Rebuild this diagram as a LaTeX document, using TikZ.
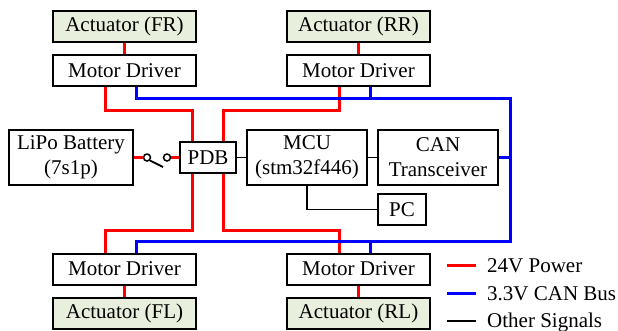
\documentclass[tikz,border=0pt]{standalone}
\usepackage{fontspec}
\setmainfont{Liberation Serif}
\definecolor{actfill}{RGB}{233,239,221}
\definecolor{pwr}{RGB}{255,0,0}
\definecolor{canc}{RGB}{0,0,255}
\begin{document}
\begin{tikzpicture}[x=1pt,y=-1pt,
  box/.style={draw=black,line width=2pt,fill=white,inner sep=0pt,minimum width=143pt,minimum height=31pt,font=\fontsize{21}{25}\selectfont,align=center},
  actbox/.style={box,fill=actfill},
  pow/.style={draw=pwr,line width=3pt},
  can/.style={draw=canc,line width=3pt},
  sig/.style={draw=black,line width=1.8pt},
  legtext/.style={anchor=base west,inner sep=0pt,font=\fontsize{21}{25}\selectfont},
  swpin/.style={circle,draw=black,line width=1.5pt,fill=white,inner sep=0pt,minimum size=7pt}]
\useasboundingbox (0,0) rectangle (618,330);

\coordinate (busTR) at (510,98);
\coordinate (busBR) at (510,241);

% nodes
\node[actbox] (actfr) at (124.5,26) {Actuator (FR)};
\node[box] (mdfr) at (124.5,70.5) {Motor Driver};
\node[actbox] (actrr) at (358.5,26) {Actuator (RR)};
\node[box] (mdrr) at (358.5,70.5) {Motor Driver};
\node[box] (mdfl) at (124.5,269) {Motor Driver};
\node[actbox] (actfl) at (124.5,313) {Actuator (FL)};
\node[box] (mdrl) at (358.5,269) {Motor Driver};
\node[actbox] (actrl) at (358.5,313) {Actuator (RL)};
\node[box,minimum width=124pt,minimum height=55pt] (bat) at (71,157.5) {LiPo Battery\\(7s1p)};
\node[box,minimum width=56pt,minimum height=31pt] (pdb) at (208,157.5) {PDB};
\node[box,minimum width=120pt,minimum height=55pt] (mcu) at (307,157.5) {MCU\\(stm32f446)};
\node[box,minimum width=120pt,minimum height=55pt] (can) at (438,157.5) {CAN\\Transceiver};
\node[box,minimum width=48pt,minimum height=31pt] (pc) at (402,209.5) {PC};

% switch
\node[swpin] (sw1) at (147,157.5) {};
\node[swpin] (sw2) at (167,157.5) {};
\coordinate (blade) at (163,167);

% power
\draw[pow] (actfr) -- (mdfr);
\draw[pow] (actrr) -- (mdrr);
\draw[pow] (mdfl) -- (actfl);
\draw[pow] (mdrl) -- (actrl);
\draw[pow] ([xshift=-19.5pt]mdfr.south) -- ++(0,23) -| ([xshift=-16pt]pdb.north);
\draw[pow] ([xshift=-19.5pt]mdrr.south) -- ++(0,23) -| ([xshift=15pt]pdb.north);
\draw[pow] ([xshift=-16pt]pdb.south) -- ++(0,56) -| ([xshift=-19.5pt]mdfl.north);
\draw[pow] ([xshift=15pt]pdb.south) -- ++(0,56) -| ([xshift=-19.5pt]mdrl.north);
\draw[pow] (bat.east) -- (sw1.west);
\draw[pow] (sw2.east) -- (pdb.west);
\draw[sig] (sw1.south east) -- (blade);

% CAN bus
\draw[can] ([xshift=11.5pt]mdfr.south) |- (busTR) -- (busBR) -| ([xshift=11.5pt]mdfl.north);
\draw[can] ([xshift=11.5pt]mdrr.south) -- ++(0,12);
\draw[can] ([xshift=11.5pt]mdrl.north) -- ++(0,-12);
\draw[can] (can.east) -- (can.east -| busTR);

% other signals
\draw[sig] (pdb.east) -- (mcu.west);
\draw[sig] (mcu.east) -- (can.west);
\draw[sig] (mcu.south) |- (pc.west);

% legend
\node[legtext] (lg1) at (487,272) {24V Power};
\node[legtext] (lg2) at (487,300) {3.3V CAN Bus};
\node[legtext] (lg3) at (487,327.5) {Other Signals};
\coordinate (l1) at (447,265);
\coordinate (l2) at (447,293);
\coordinate (l3) at (447,321);
\draw[pow] (l1) -- ++(29,0);
\draw[can] (l2) -- ++(29,0);
\draw[sig] (l3) -- ++(29,0);
\end{tikzpicture}
\end{document}
